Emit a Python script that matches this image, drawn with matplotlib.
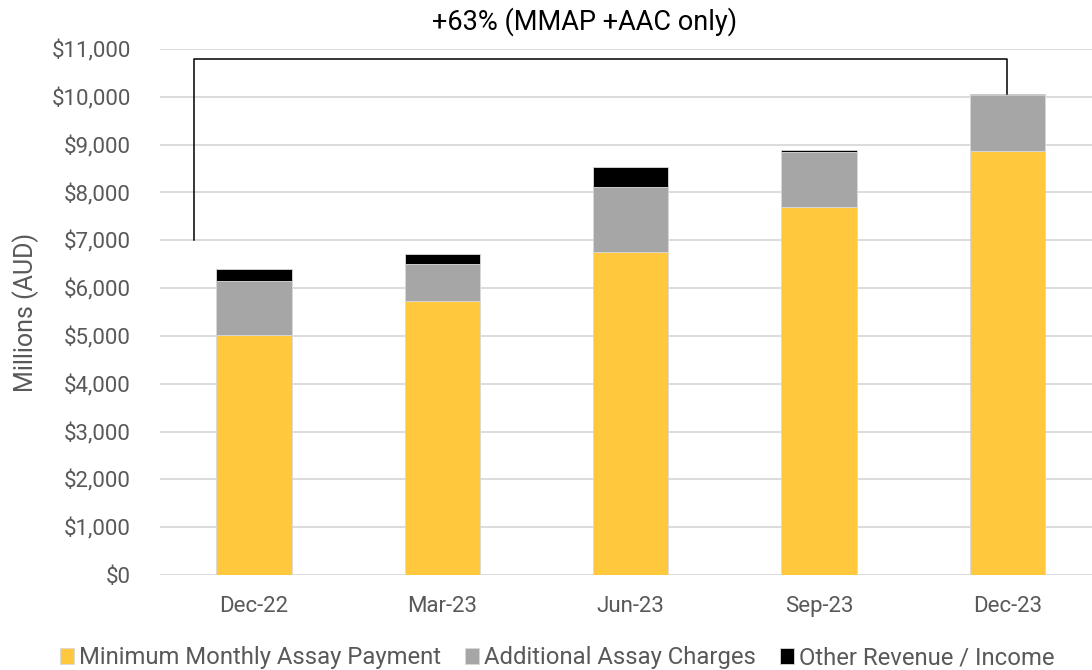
import matplotlib.pyplot as plt
import numpy as np
from matplotlib.ticker import FuncFormatter

plt.rcParams['font.family'] = ['Roboto', 'DejaVu Sans']

# Data (millions AUD)
quarters = ["Dec-22", "Mar-23", "Jun-23", "Sep-23", "Dec-23"]
mmap = [5010, 5730, 6750, 7700, 8860]
aac = [1130, 770, 1360, 1140, 1170]
other = [250, 210, 430, 45, 35]
series_names = ["Minimum Monthly Assay Payment", "Additional Assay Charges", "Other Revenue / Income"]
colors = ["#FFC83D", "#A6A6A6", "#000000"]

fig = plt.figure(figsize=(10.92, 6.70), dpi=100)
ax = fig.add_axes([0.1465, 0.1418, 0.8535, 0.785])

x = np.arange(len(quarters))
w = 0.4
bottom = np.zeros(len(quarters))
for vals, name, col in zip([mmap, aac, other], series_names, colors):
    ax.bar(x, vals, w, bottom=bottom, color=col, label=name,
           edgecolor="#D9D9D9", linewidth=0.6, zorder=3)
    bottom += np.array(vals)

ax.set_ylim(0, 11000)
ax.set_xlim(-0.5, 4.45)
ax.set_yticks(np.arange(0, 11001, 1000))
ax.yaxis.set_major_formatter(FuncFormatter(lambda v, p: f"${v:,.0f}"))
ax.set_xticks(x)
ax.set_xticklabels(quarters)
ax.grid(axis="y", color="#D9D9D9", linewidth=1.3, zorder=0)
for s in ax.spines.values():
    s.set_visible(False)
ax.tick_params(axis="both", length=0, labelsize=16, colors="#595959")
ax.tick_params(axis="y", pad=21)
ax.tick_params(axis="x", pad=15)
ax.set_ylabel("Millions (AUD)", fontsize=18, color="#595959", labelpad=9)

# Growth bracket
end_top = bottom[-1]
ax.plot([-0.32, -0.32, 4, 4], [7000, 10800, 10800, end_top],
        color="black", linewidth=1.1, zorder=4, clip_on=False)
growth = (mmap[-1] + aac[-1]) / (mmap[0] + aac[0]) - 1
fig.text(0.535, 0.967, f"+{growth*100:.0f}% (MMAP +AAC only)", ha="center", va="center",
         fontsize=19.5, color="black")

leg = fig.legend(loc="center left", bbox_to_anchor=(0.046, 0.018), ncol=3, frameon=False,
                 borderaxespad=0, fontsize=17.2, handlelength=0.6, handleheight=0.6,
                 handletextpad=0.2, columnspacing=1.0)
for t in leg.get_texts():
    t.set_color("#595959")

fig.savefig("out.png", dpi=100)
